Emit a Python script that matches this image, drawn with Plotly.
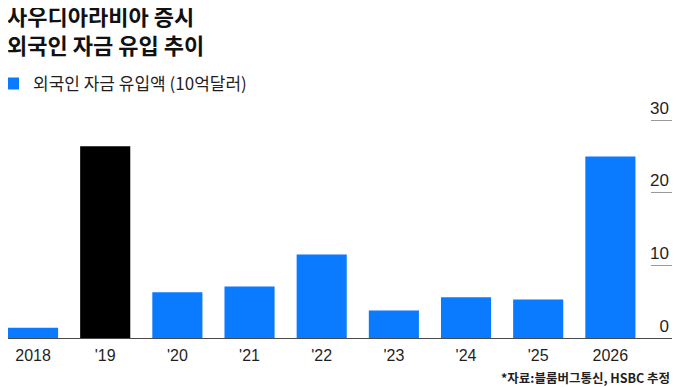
import plotly.graph_objects as go

# ---- data ----
years = ["2018", "'19", "'20", "'21", "'22", "'23", "'24", "'25", "2026"]
inflows = [1.4, 26.4, 6.3, 7.1, 11.5, 3.8, 5.6, 5.3, 25.0]
y_ticks = [0, 10, 20, 30]
series_name = "외국인 자금 유입액 (10억달러)"
title_lines = ["사우디아라비아 증시", "외국인 자금 유입 추이"]
source_text = "*자료:블룸버그통신, HSBC 추정"

BLUE = "#0A7BFF"
BLACK = "#000000"
bar_colors = [BLACK if y == "'19" else BLUE for y in years]

FONT = "Liberation Sans, Noto Sans CJK KR, sans-serif"
KFONT = "Noto Sans CJK KR, sans-serif"
TXT = "#1f1f1f"

# the page body adds an 8px offset; the figure is sized to fill the rest of the window
W, H = 672, 379

fig = go.Figure()
fig.add_trace(go.Bar(
    x=years, y=inflows, name=series_name,
    marker=dict(color=bar_colors, line=dict(width=0)),
    showlegend=True,
))

fig.update_layout(
    width=W, height=H,
    paper_bgcolor="white", plot_bgcolor="white",
    margin=dict(l=0, r=8, t=62, b=49, pad=0),
    font=dict(family=FONT, color=TXT, size=16),
    bargap=22 / 72,
    legend=dict(
        x=0, xanchor="left", y=0.948, yanchor="middle",
        indentation=-15,
        font=dict(size=17, color=TXT, family=KFONT),
        bgcolor="rgba(0,0,0,0)", borderwidth=0,
    ),
    xaxis=dict(
        type="category", range=[-0.347, 8.854],
        showline=True, linecolor="#4a4a4a", linewidth=1,
        ticks="", showgrid=False, zeroline=False,
        tickfont=dict(size=16, color=TXT),
        ticklabelstandoff=3,
        fixedrange=True,
    ),
    yaxis=dict(
        side="right", range=[0, 36.9], tickvals=y_ticks,
        ticks="inside", ticklen=21, tickwidth=1, tickcolor="#9a9a9a",
        ticklabelposition="inside top",
        showgrid=False, zeroline=False, showline=False,
        tickfont=dict(size=17, color=TXT),
        fixedrange=True,
    ),
)

# two-line title
fig.add_annotation(
    text="<br>".join(title_lines), xref="paper", yref="paper", x=0, y=1,
    xanchor="left", yanchor="middle", align="left", yshift=41, xshift=-2,
    showarrow=False, borderpad=0,
    font=dict(family=KFONT, size=22, color="#111111", weight=700),
)

fig.add_annotation(
    text=source_text,
    xref="paper", yref="paper", x=1, y=0, xanchor="right", yanchor="middle",
    yshift=-39, xshift=0, showarrow=False,
    font=dict(size=12.5, color=TXT, family=KFONT, weight=700),
)

fig.write_html("out.html")
